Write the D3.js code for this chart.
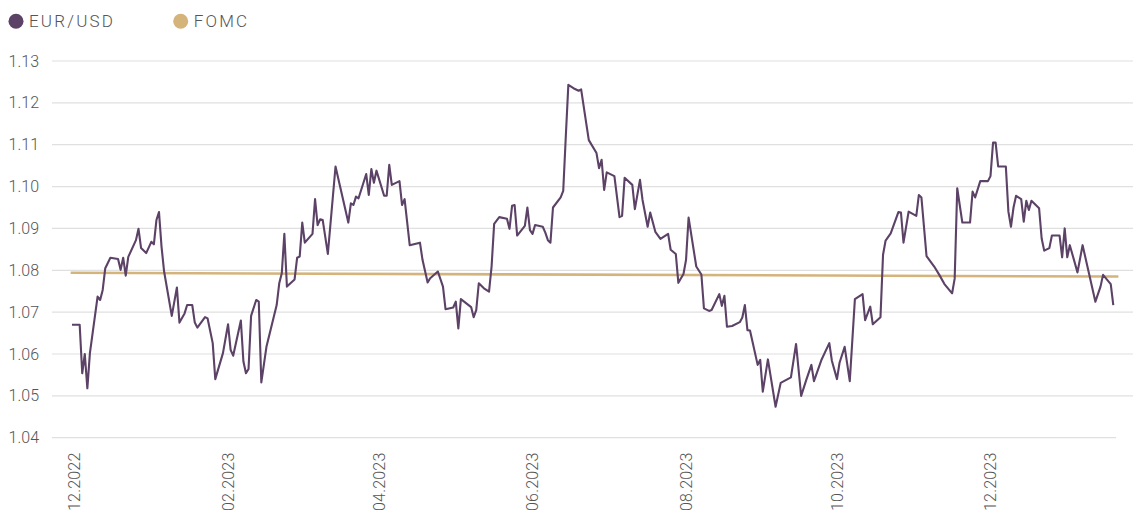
<!DOCTYPE html>
<html lang="en">
<head>
    <meta charset="UTF-8">
    <title>EUR/USD vs FOMC</title>
    <script src="https://d3js.org/d3.v7.min.js"></script>
    <style>
        body {
            margin: 0;
            padding: 0;
            background-color: #ffffff;
            overflow: hidden;
        }

        svg {
            display: block;
            font-family: Roboto, "Noto Sans", sans-serif;
            font-weight: 300;
        }

        .grid line {
            stroke: #e0e0e0;
            stroke-width: 1.2px;
        }

        .tick-label {
            fill: #555;
            font-size: 16px;
        }

        .x-label {
            fill: #555;
            font-size: 16px;
            letter-spacing: 0.2px;
        }

        .legend text {
            fill: #555;
            font-size: 17px;
            letter-spacing: 2.2px;
        }
    </style>
</head>
<body>
    <svg id="chart" width="1136" height="513"></svg>

    <script>
        // series: day offset from the first point, and rate
        const eurDays = [
            0, 3, 4, 5, 6, 7, 10, 11, 12, 13, 15, 18, 19, 20, 21, 22, 25, 26, 27, 29,
            31, 32, 33, 34, 35, 36, 39, 41, 42, 44, 45, 47, 48, 49, 52, 53, 55, 56, 59, 61,
            62, 63, 66, 67, 68, 69, 70, 72, 73, 74, 76, 80, 81, 82, 83, 84, 87, 88, 89, 90,
            91, 94, 95, 96, 97, 98, 100, 103, 108, 109, 110, 111, 112, 115, 116, 117, 118, 119, 122, 123,
            124, 125, 128, 129, 130, 132, 136, 137, 139, 140, 143, 145, 146, 149, 150, 151, 152, 156, 157, 158,
            159, 161, 163, 164, 165, 167, 170, 171, 172, 173, 174, 177, 178, 179, 180, 181, 184, 185, 186, 187,
            188, 191, 192, 193, 194, 196, 198, 199, 201, 202, 205, 206, 207, 208, 209, 212, 214, 215, 216, 219,
            220, 222, 223, 225, 226, 228, 230, 233, 234, 236, 237, 239, 240, 241, 244, 246, 247, 249, 250, 253,
            254, 255, 256, 258, 261, 262, 263, 264, 265, 268, 269, 270, 272, 275, 277, 281, 283, 285, 287, 289,
            290, 293, 296, 297, 299, 300, 302, 304, 306, 309, 310, 312, 313, 316, 317, 318, 320, 323, 324, 325,
            327, 330, 331, 332, 334, 337, 339, 341, 344, 345, 346, 348, 351, 352, 353, 355, 358, 359, 360, 361,
            362, 365, 366, 367, 368, 369, 371, 372, 373, 374, 375, 378, 379, 380, 382, 383, 386, 387, 388, 389,
            390, 393, 395, 400, 402, 403, 406, 407
        ];
        const eurValues = [
            1.0670, 1.0670, 1.0554, 1.0600, 1.0518, 1.0602, 1.0737, 1.0729, 1.0753, 1.0805, 1.0830, 1.0827, 1.0801, 1.0830, 1.0787, 1.0832, 1.0872, 1.0899, 1.0853, 1.0841,
            1.0868, 1.0862, 1.0920, 1.0939, 1.0856, 1.0797, 1.0691, 1.0759, 1.0675, 1.0697, 1.0717, 1.0717, 1.0675, 1.0663, 1.0688, 1.0685, 1.0626, 1.0540, 1.0602, 1.0671,
            1.0610, 1.0596, 1.0680, 1.0582, 1.0554, 1.0564, 1.0691, 1.0729, 1.0725, 1.0532, 1.0617, 1.0717, 1.0769, 1.0793, 1.0887, 1.0761, 1.0778, 1.0830, 1.0833, 1.0914,
            1.0866, 1.0887, 1.0970, 1.0908, 1.0922, 1.0920, 1.0839, 1.1048, 1.0914, 1.0960, 1.0956, 1.0976, 1.0972, 1.1030, 1.0980, 1.1042, 1.1009, 1.1038, 1.0978, 1.0978,
            1.1052, 1.1004, 1.1013, 1.0956, 1.0970, 1.0860, 1.0866, 1.0825, 1.0771, 1.0781, 1.0797, 1.0761, 1.0707, 1.0711, 1.0725, 1.0661, 1.0731, 1.0712, 1.0688, 1.0705,
            1.0769, 1.0757, 1.0749, 1.0809, 1.0911, 1.0927, 1.0923, 1.0899, 1.0954, 1.0956, 1.0883, 1.0906, 1.0950, 1.0896, 1.0887, 1.0908, 1.0904, 1.0890, 1.0872, 1.0866,
            1.0950, 1.0974, 1.0990, 1.1119, 1.1243, 1.1235, 1.1229, 1.1232, 1.1151, 1.1111, 1.1080, 1.1044, 1.1064, 1.0992, 1.1034, 1.1025, 1.0927, 1.0930, 1.1021, 1.1004,
            1.0946, 1.1016, 1.0968, 1.0904, 1.0938, 1.0892, 1.0875, 1.0887, 1.0849, 1.0839, 1.0770, 1.0791, 1.0825, 1.0926, 1.0809, 1.0790, 1.0709, 1.0703, 1.0705, 1.0743,
            1.0715, 1.0739, 1.0665, 1.0667, 1.0676, 1.0687, 1.0717, 1.0657, 1.0656, 1.0574, 1.0586, 1.0510, 1.0587, 1.0474, 1.0531, 1.0544, 1.0624, 1.0500, 1.0538, 1.0574,
            1.0535, 1.0587, 1.0626, 1.0584, 1.0540, 1.0579, 1.0617, 1.0535, 1.0731, 1.0743, 1.0681, 1.0713, 1.0671, 1.0688, 1.0837, 1.0871, 1.0888, 1.0939, 1.0938, 1.0866,
            1.0940, 1.0930, 1.0980, 1.0974, 1.0834, 1.0809, 1.0789, 1.0767, 1.0745, 1.0780, 1.0996, 1.0914, 1.0914, 1.0988, 1.0974, 1.1013, 1.1013, 1.1025, 1.1105, 1.1105,
            1.1048, 1.1048, 1.0940, 1.0904, 1.0950, 1.0978, 1.0970, 1.0916, 1.0966, 1.0944, 1.0966, 1.0948, 1.0876, 1.0847, 1.0853, 1.0883, 1.0883, 1.0831, 1.0900, 1.0831,
            1.0860, 1.0795, 1.0860, 1.0725, 1.0761, 1.0789, 1.0767, 1.0717
        ];

        const fomcDays = [-0.5, 409];
        const fomcValues = [1.0794, 1.0785];

        const yTicks = [1.04, 1.05, 1.06, 1.07, 1.08, 1.09, 1.10, 1.11, 1.12, 1.13];
        const xTickDays = [1, 61, 120, 180, 240, 299, 359];
        const xTickLabels = ["12.2022", "02.2023", "04.2023", "06.2023", "08.2023", "10.2023", "12.2023"];

        const seriesNames = ["EUR/USD", "FOMC"];
        const seriesColors = ["#5b4266", "#d5b47c"];

        const svg = d3.select("#chart");

        const x = d3.scaleLinear()
            .domain([0, 407])
            .range([72, 1113.3]);

        const y = d3.scaleLinear()
            .domain([1.04, 1.13])
            .range([437.7, 61]);

        // horizontal grid
        svg.append("g")
            .attr("class", "grid")
            .selectAll("line")
            .data(yTicks)
            .join("line")
            .attr("x1", 52)
            .attr("x2", d => d === 1.04 ? 1116 : 1133)
            .attr("y1", d => y(d))
            .attr("y2", d => y(d));

        // y labels
        svg.append("g")
            .selectAll("text")
            .data(yTicks)
            .join("text")
            .attr("class", "tick-label")
            .attr("x", 39)
            .attr("y", d => y(d))
            .attr("dy", "0.35em")
            .attr("text-anchor", "end")
            .text(d => d.toFixed(2));

        // x labels, rotated
        svg.append("g")
            .selectAll("text")
            .data(xTickDays)
            .join("text")
            .attr("class", "x-label")
            .attr("text-anchor", "end")
            .attr("dy", "0.35em")
            .attr("transform", d => `translate(${x(d)},452.5) rotate(-90)`)
            .text((d, i) => xTickLabels[i]);

        const line = d3.line()
            .x(d => x(d[0]))
            .y(d => y(d[1]));

        svg.append("path")
            .datum(d3.zip(fomcDays, fomcValues))
            .attr("fill", "none")
            .attr("stroke", seriesColors[1])
            .attr("stroke-width", 2.6)
            .attr("d", line);

        svg.append("path")
            .datum(d3.zip(eurDays, eurValues))
            .attr("fill", "none")
            .attr("stroke", seriesColors[0])
            .attr("stroke-width", 2.1)
            .attr("stroke-linejoin", "round")
            .attr("d", line);

        // legend
        const legend = svg.append("g")
            .attr("class", "legend")
            .selectAll("g")
            .data(seriesNames)
            .join("g")
            .attr("transform", (d, i) => `translate(${i === 0 ? 16 : 180.7},21.3)`);

        legend.append("circle")
            .attr("r", 7.5)
            .attr("fill", (d, i) => seriesColors[i]);

        legend.append("text")
            .attr("x", 13)
            .attr("y", 6)
            .text(d => d);
    </script>
</body>
</html>
